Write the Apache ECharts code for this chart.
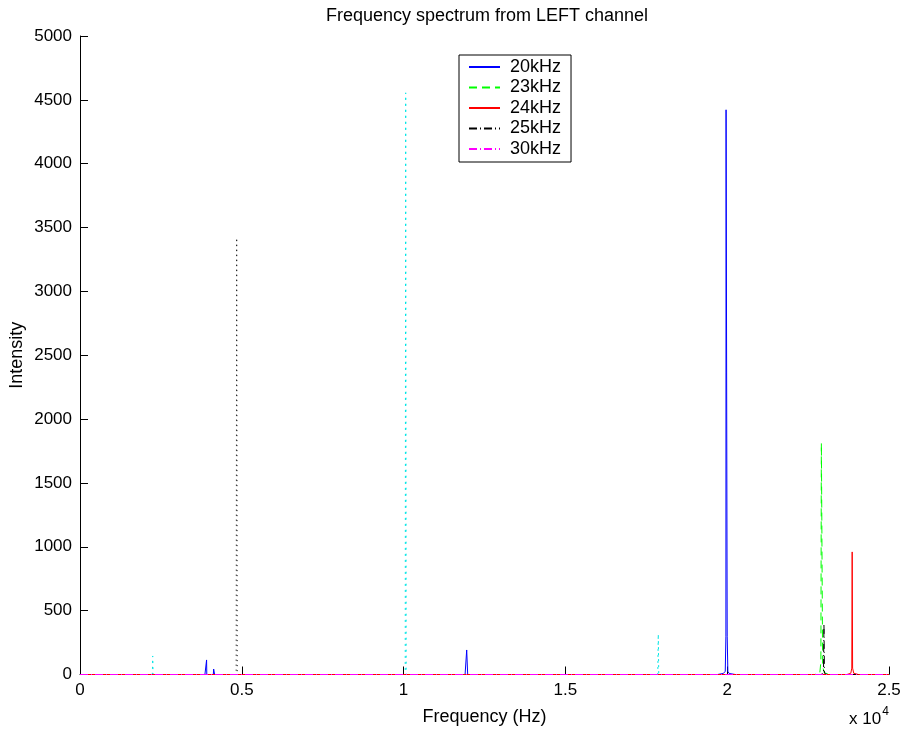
<!DOCTYPE html>
<html>
<head>
<meta charset="utf-8">
<title>Frequency spectrum from LEFT channel</title>
<script src="https://cdn.jsdelivr.net/npm/echarts@6/dist/echarts.min.js"></script>
<style>
  html, body { margin: 0; padding: 0; background: #fff; }
  #chart { width: 904px; height: 733px; }
</style>
</head>
<body>
<div id="chart"></div>
<script>
// Spectrum traces: frequency (Hz) and intensity pairs for each recording
const f20Freq = [0, 3860, 3905, 3912, 3918, 3960, 4120, 4130, 4150, 4160, 11900, 11945, 11950, 11975, 11980, 12010, 19700, 19880, 19940, 19960, 19965, 19995, 20000, 20020, 20060, 20250, 25000];
const f20Int  = [0, 0, 0, 114, 0, 0, 0, 43, 43, 0, 0, 0, 192, 192, 0, 0, 0, 8, 25, 300, 4422, 4422, 300, 25, 8, 0, 0];

const f23Freq = [0, 22700, 22860, 22895, 22910, 22930, 22950, 23000, 23150, 25000];
const f23Int  = [0, 0, 8, 100, 1813, 1813, 60, 15, 0, 0];

const f24Freq = [0, 23700, 23820, 23850, 23862, 23875, 23910, 24050, 25000];
const f24Int  = [0, 0, 10, 50, 960, 50, 10, 0, 0];

const f25Freq = [0, 22900, 22975, 22990, 23005, 23080, 25000];
const f25Int  = [0, 0, 10, 396, 10, 0, 0];

const f30Freq = [0, 25000];
const f30Int  = [0, 0];

// Unlabelled traces (cyan and black dotted)
const cyanFreq = [0, 2235, 2247, 2259, 10050, 10065, 10080, 17855, 17870, 17885, 25000];
const cyanInt  = [0, 0, 145, 0, 0, 4555, 0, 0, 317, 0, 0];

const blackDotFreq = [0, 4825, 4842, 4859, 25000];
const blackDotInt  = [0, 0, 3419, 0, 0];

const seriesNames = ['20kHz', '23kHz', '24kHz', '25kHz', '30kHz'];
const xTickValues = [0, 5000, 10000, 15000, 20000, 25000];
const yTickValues = [0, 500, 1000, 1500, 2000, 2500, 3000, 3500, 4000, 4500, 5000];

function pairs(fs, vs) { return fs.map((f, i) => [f, vs[i]]); }

const FONT = 'Liberation Sans, Arial, Helvetica, sans-serif';

const chart = echarts.init(document.getElementById('chart'), null, { renderer: 'canvas' });

function lineSeries(name, fs, vs, color, type, width) {
  return {
    name: name,
    type: 'line',
    data: pairs(fs, vs),
    showSymbol: false,
    symbol: 'none',
    animation: false,
    silent: true,
    lineStyle: { color: color, width: width || 1, type: type || 'solid' },
    itemStyle: { color: color }
  };
}

const option = {
  backgroundColor: '#ffffff',
  animation: false,
  grid: { left: 80, right: 15, top: 36, bottom: 58.5, containLabel: false, outerBoundsMode: 'none' },
  legend: {
    data: seriesNames.map(n => ({ name: n })),
    orient: 'vertical',
    left: 459,
    top: 55,
    width: 111,
    padding: [3, 10, 4, 9],
    itemGap: 2.5,
    itemWidth: 31,
    itemHeight: 17,
    borderColor: '#000',
    borderWidth: 1,
    backgroundColor: '#fff',
    selectedMode: false,
    itemStyle: { opacity: 0 },
    textStyle: { fontFamily: FONT, fontSize: 18, color: '#000', padding: [0, 0, 0, 5] }
  },
  xAxis: {
    type: 'value',
    min: 0,
    max: 25000,
    interval: 5000,
    name: 'Frequency (Hz)',
    nameLocation: 'middle',
    nameGap: 34,
    nameTextStyle: { fontFamily: FONT, fontSize: 18, color: '#000' },
    axisLine: { show: true, lineStyle: { color: '#000', width: 1 } },
    axisTick: { show: true, inside: true, length: 8, lineStyle: { color: '#000' } },
    axisLabel: {
      fontFamily: FONT, fontSize: 17, color: '#000', margin: 7,
      formatter: v => (xTickValues.indexOf(v) >= 0 ? String(v / 10000) : '')
    },
    splitLine: { show: false }
  },
  yAxis: {
    type: 'value',
    min: 0,
    max: 5000,
    interval: 500,
    name: 'Intensity',
    nameLocation: 'middle',
    nameGap: 54,
    nameMoveOverlap: false,
    nameRotate: 90,
    nameTextStyle: { fontFamily: FONT, fontSize: 18, color: '#000' },
    axisLine: { show: true, lineStyle: { color: '#000', width: 1 } },
    axisTick: { show: true, inside: true, length: 8, lineStyle: { color: '#000' } },
    axisLabel: {
      fontFamily: FONT, fontSize: 17, color: '#000', margin: 8,
      formatter: v => (yTickValues.indexOf(v) >= 0 ? String(v) : '')
    },
    splitLine: { show: false }
  },
  graphic: [{
    type: 'text',
    x: 487,
    y: 7,
    style: {
      text: 'Frequency spectrum from LEFT channel',
      fontFamily: FONT, fontSize: 18, fill: '#000',
      align: 'center', verticalAlign: 'top'
    }
  }, {
    type: 'text',
    left: 849,
    top: 706,
    style: {
      text: '{b|x 10}{s|4}',
      rich: {
        b: { fontFamily: FONT, fontSize: 17, fill: '#000', verticalAlign: 'bottom' },
        s: { fontFamily: FONT, fontSize: 12, fill: '#000', verticalAlign: 'top', padding: [0, 0, 10, 1] }
      }
    }
  }],
  series: [
    lineSeries('cyanTrace', cyanFreq, cyanInt, '#00e5e5', [2, 4], 1),
    lineSeries('blackDotTrace', blackDotFreq, blackDotInt, '#000000', [1, 4], 1),
    lineSeries('20kHz', f20Freq, f20Int, '#0000ff', 'solid', 1),
    lineSeries('23kHz', f23Freq, f23Int, '#00ff00', [8, 5], 1),
    lineSeries('25kHz', f25Freq, f25Int, '#000000', [8, 3, 1, 3], 1),
    lineSeries('24kHz', f24Freq, f24Int, '#ff0000', 'solid', 1),
    lineSeries('30kHz', f30Freq, f30Int, '#ff00ff', [8, 3, 1, 3], 1)
  ]
};

chart.setOption(option);
</script>
</body>
</html>
